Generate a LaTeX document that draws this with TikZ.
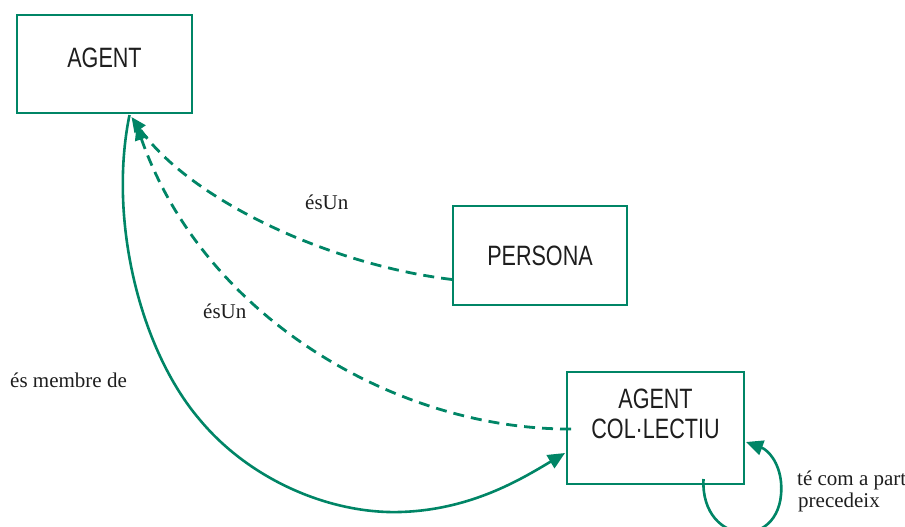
\documentclass[tikz,border=0pt]{standalone}
\usepackage{fontspec}
\setmainfont{Liberation Serif}
\newfontfamily\boxfont[FakeStretch=0.77]{Liberation Sans}
\usetikzlibrary{arrows.meta,calc}
\definecolor{ontogreen}{RGB}{0,133,102}
\definecolor{inkgray}{RGB}{30,30,30}
\tikzset{
  classbox/.style={draw=ontogreen, line width=2pt, fill=white, inner sep=0pt,
    align=center, text=inkgray, font=\boxfont\fontsize{28}{30}\selectfont,
    text height=20pt, text depth=0pt},
  rellabel/.style={anchor=base west, inner sep=0pt, text=inkgray,
    font=\fontsize{21}{24}\selectfont},
  isa/.style={draw=ontogreen, line width=2.8pt, dash pattern=on 11pt off 7pt,
    -{Triangle[length=15pt,width=13pt]}},
  member/.style={draw=ontogreen, line width=2.6pt,
    -{Triangle[length=17pt,width=15pt]}},
}
\begin{document}
\begin{tikzpicture}[x=1pt,y=-1pt]
\useasboundingbox (0,0) rectangle (905,527);

% classes
\node[classbox, minimum width=175pt, minimum height=98pt,
      text depth=12pt] (agent) at (104.5,64) {AGENT};
\node[classbox, minimum width=174pt, minimum height=99pt] (persona) at (540,255.5) {PERSONA};
\node[classbox, minimum width=177pt, minimum height=112pt] (coll) at (655.5,428)
  {AGENT\\COL·LECTIU};

% anchor points on the boxes
\coordinate (pStart) at ($(persona.west)+(0,24)$);
\coordinate (cStart) at ($(coll.west)+(5,1)$);
\coordinate (aTipOne) at ($(agent.south)+(27,3)$);
\coordinate (aTipTwo) at ($(agent.south)+(32,11)$);
\coordinate (aFoot) at ($(agent.south)+(25,1)$);
\coordinate (cTip) at ($(coll.west)+(-1,25)$);
\coordinate (loopStart) at ($(coll.south)+(48,-6)$);
\coordinate (loopTip) at ($(coll.east)+(1,14)$);

% esUn relations
\draw[isa] (pStart) .. controls (330,265) and (190,200) .. (aTipOne);
\draw[isa] (cStart) .. controls (400,430) and (205,320) .. (aTipTwo);

% membership relation
\draw[member] (aFoot) .. controls (108,220) and (140,350) .. (200,420)
  .. controls (250,480) and (330,514) .. (400,512)
  .. controls (470,510) and (520,480) .. (cTip);

% self relation
\draw[member] (loopStart) .. controls (700,548) and (787,552) .. (781,482)
  .. controls (779,462) and (768,450) .. (loopTip);

% relation labels
\node[rellabel] (lblPersona) at (305,209) {ésUn};
\node[rellabel] (lblColl) at (203,318) {ésUn};
\node[rellabel] (lblMember) at (10,387) {és membre de};
\node[rellabel] (lblPart) at (797,485) {té com a part};
\node[rellabel] (lblPrec) at (798,507) {precedeix};
\end{tikzpicture}
\end{document}
